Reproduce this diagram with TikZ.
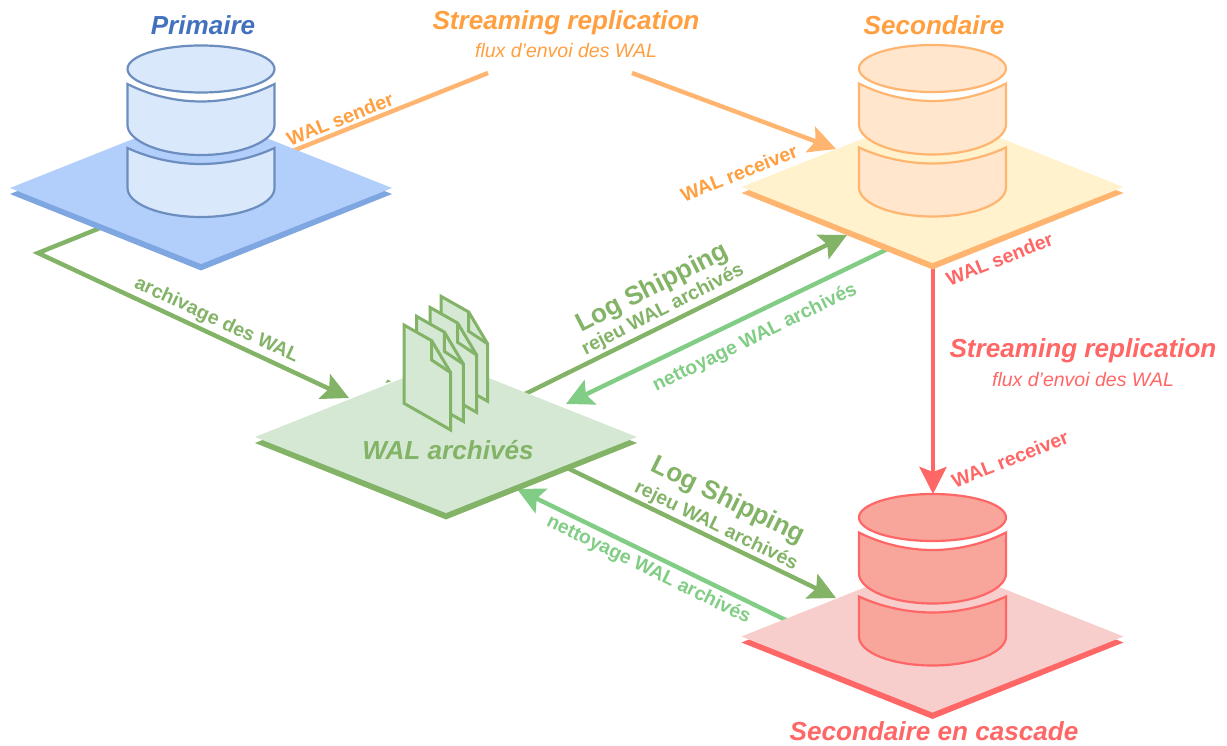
\documentclass[tikz,border=0pt]{standalone}
\usepackage{fontspec}
\setmainfont{Liberation Sans}
\usetikzlibrary{arrows.meta}
\definecolor{blueT}{HTML}{4272BD}
\definecolor{blueP}{HTML}{B2CEFB}
\definecolor{blueS}{HTML}{7EA6E0}
\definecolor{blueF}{HTML}{DAE8FC}
\definecolor{blueL}{HTML}{6C8EBF}
\definecolor{orT}{HTML}{FF9F40}
\definecolor{orP}{HTML}{FFF2CC}
\definecolor{orS}{HTML}{FFB570}
\definecolor{orF}{HTML}{FFE6CC}
\definecolor{redT}{HTML}{FF6666}
\definecolor{redP}{HTML}{F8CECC}
\definecolor{redF}{HTML}{F8A59C}
\definecolor{grT}{HTML}{82B366}
\definecolor{grP}{HTML}{D5E8D4}
\definecolor{grL}{HTML}{82CD85}
\tikzset{
  x=1pt,y=-1pt,
  conn/.style={line width=4.4pt,line join=miter,-{Stealth[length=27pt,width=27pt,inset=5pt]}},
  plain/.style={line width=4.4pt,line join=miter},
  lab/.style={inner sep=0pt,font=\fontsize{19.5}{24}\selectfont\bfseries},
  sublab/.style={inner sep=0pt,font=\fontsize{19.4}{23}\selectfont\bfseries},
  biglab/.style={inner sep=0pt,font=\fontsize{26.2}{30}\selectfont\bfseries},
  title/.style={inner sep=0pt,font=\fontsize{26.1}{30}\selectfont\bfseries\itshape},
  flux/.style={inner sep=0pt,font=\fontsize{19.5}{23}\selectfont\itshape},
  cyl/.style={line width=2.2pt},
}
\newcommand{\Platform}[5]{% name, cx, cy, top fill, shadow
  \fill[#5] (#2-191,#3+6) -- (#2,#3-70) -- (#2+191,#3+6) -- (#2,#3+82.5) -- cycle;
  \fill[#4] (#2-191,#3) -- (#2,#3-76) -- (#2+191,#3) -- (#2,#3+76) -- cycle;
  \coordinate (#1) at (#2,#3);
}
\newcommand{\Cyl}[4]{% cx, cy offset, fill, line
  \begin{scope}[shift={(#1,#2)}]
    \path[cyl,fill=#3,draw=#4] (-73.5,148) .. controls (-52,158) and (-26,164) .. (0,164) .. controls (26,164) and (52,158) .. (73.5,148)
      -- (73.5,188) .. controls (73.5,204) and (40.6,217) .. (0,217) .. controls (-40.6,217) and (-73.5,204) .. (-73.5,188) -- cycle;
    \path[cyl,fill=#3,draw=#4] (-73.5,84) .. controls (-52,95) and (-26,101.5) .. (0,101.5) .. controls (26,101.5) and (52,95) .. (73.5,84)
      -- (73.5,125) .. controls (73.5,141) and (40.6,155) .. (0,155) .. controls (-40.6,155) and (-73.5,141) .. (-73.5,125) -- cycle;
    \path[cyl,fill=#3,draw=#4] (-73.5,69) .. controls (-73.5,56) and (-40.6,45.5) .. (0,45.5) .. controls (40.6,45.5) and (73.5,56) .. (73.5,69)
      .. controls (73.5,82) and (40.6,92.5) .. (0,92.5) .. controls (-40.6,92.5) and (-73.5,82) .. (-73.5,69) -- cycle;
  \end{scope}
}
\newcommand{\Doc}[2]{%
  \begin{scope}[shift={(#1,#2)}]
    \path[fill=grP,draw=grT,line width=3pt,line join=miter] (404,325) -- (431.7,340.7) -- (450.7,372.7) -- (450.7,430) -- (404,403.3) -- cycle;
    \path[draw=grT,line width=3pt,line join=miter] (431.7,340.7) -- (431.7,360) -- (450.7,372.7);
  \end{scope}
}
\begin{document}
\begin{tikzpicture}
\useasboundingbox (0,0) rectangle (1227,746);
% connector end points
\coordinate (sendP) at (285,154);
\coordinate (gapA) at (488,73);
\coordinate (gapB) at (632,73);
\coordinate (recvS) at (836,149);
\coordinate (archP) at (110,224);
\coordinate (elbow) at (38,253);
\coordinate (archW) at (349,398);
\coordinate (shipA) at (515,399);
\coordinate (shipB) at (847,235);
\coordinate (cleanA) at (900,243);
\coordinate (cleanB) at (566,404);
\coordinate (shipC) at (555,462);
\coordinate (shipD) at (836,598);
\coordinate (cleanC) at (800,627);
\coordinate (cleanD) at (517,489);
\coordinate (sendS) at (933,262);
\coordinate (recvC) at (933,494);
% connectors, behind the platforms
\draw[plain,orS] (sendP) -- (gapA);
\draw[conn,orS] (gapB) -- (recvS);
\draw[conn,grT] (archP) -- (elbow) -- (archW);
\draw[conn,grT] (shipA) -- (shipB);
\draw[conn,grL] (cleanA) -- (cleanB);
\draw[conn,grT] (shipC) -- (shipD);
\draw[conn,grL] (cleanC) -- (cleanD);
\draw[conn,redT] (sendS) -- (recvC);
% small mark peeking out above the archive platform
\fill[grT] (385.5,383) -- (387.5,379.5) -- (391,381.5) -- cycle;
% platforms
\Platform{platP}{201}{188}{blueP}{blueS}
\Platform{platS}{932.5}{187}{orP}{orS}
\Platform{platW}{446}{437}{grP}{grT}
\Platform{platC}{932.5}{636.5}{redP}{redT}
% databases
\Cyl{201}{0}{blueF}{blueL}
\Cyl{932.5}{-0.5}{orF}{orS}
\Cyl{932.5}{448.5}{redF}{redT}
% documents
\Doc{37}{-28.7}
\Doc{26}{-17.6}
\Doc{12.7}{-8.6}
\Doc{0}{0}
% titles
\node[title,text=blueT] (tP) at (203,25) {Primaire};
\node[title,text=orT] (tS) at (934,25) {Secondaire};
\node[title,text=grT] (tW) at (448,450) {WAL archivés};
\node[title,text=redT] (tC) at (934,731) {Secondaire en cascade};
\node[title,text=orT] (tR1) at (566,23) {Streaming replication};
\node[flux,text=orT] (fR1) at (566,51) {flux d{\char39}envoi des WAL};
\node[title,text=redT] (tR2) at (1083,351) {Streaming replication};
\node[flux,text=redT] (fR2) at (1083,380) {flux d{\char39}envoi des WAL};
% connector labels
\node[lab,text=orT,rotate=21.5] (l1) at (340,119) {WAL sender};
\node[lab,text=orT,rotate=21.5] (l2) at (739,173) {WAL receiver};
\node[lab,text=redT,rotate=21.5] (l3) at (999.5,259) {WAL sender};
\node[lab,text=redT,rotate=21.5] (l4) at (1010,459) {WAL receiver};
\node[lab,text=grT,rotate=-25] (l5) at (216.5,320.5) {archivage des WAL};
\node[biglab,text=grT,rotate=27] (l6) at (652.5,288.5) {Log Shipping};
\node[sublab,text=grT,rotate=27] (l7) at (663,310) {rejeu WAL archivés};
\node[sublab,text=grL,rotate=26] (l8) at (755,338) {nettoyage WAL archivés};
\node[biglab,text=grT,rotate=-26] (l9) at (728,501) {Log Shipping};
\node[sublab,text=grT,rotate=-26] (l10) at (716,526) {rejeu WAL archivés};
\node[sublab,text=grL,rotate=-26] (l11) at (648.5,570) {nettoyage WAL archivés};
\end{tikzpicture}
\end{document}
